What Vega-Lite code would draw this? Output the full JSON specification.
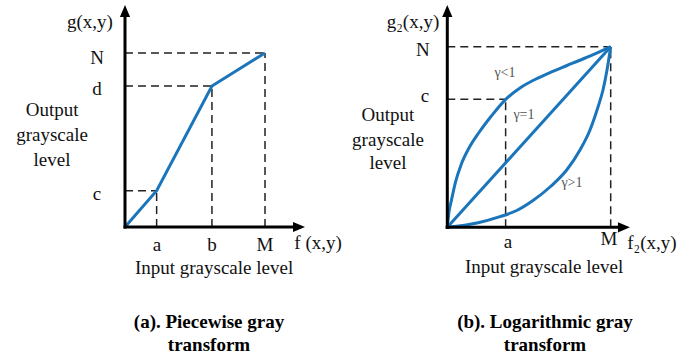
{
  "$schema": "https://vega.github.io/schema/vega-lite/v6.json",
  "padding": 0,
  "autosize": {"type": "pad"},
  "background": "white",
  "spacing": 0,
  "bounds": "flush",
  "config": {"view": {"stroke": null}, "text": {"font": "Liberation Serif"}},
  "datasets": {
    "leftRules": [
      {"x": 0, "y": 20.9, "x2": 22.6, "y2": 20.9, "kind": "dash"},
      {"x": 22.6, "y": 0, "x2": 22.6, "y2": 20.9, "kind": "dash"},
      {"x": 0, "y": 81, "x2": 62.1, "y2": 81, "kind": "dash"},
      {"x": 62.1, "y": 0, "x2": 62.1, "y2": 81, "kind": "dash"},
      {"x": 0, "y": 100, "x2": 100, "y2": 100, "kind": "dash"},
      {"x": 100, "y": 0, "x2": 100, "y2": 100, "kind": "dash"},
      {"x": 0, "y": -0.9, "x2": 0, "y2": 121, "kind": "axis"},
      {"x": -1, "y": 0, "x2": 120.5, "y2": 0, "kind": "axis"}
    ],
    "leftArrows": [
      {"x": 0, "y": 124.1, "dir": "up"},
      {"x": 124.3, "y": 0, "dir": "right"}
    ],
    "leftCurve": [
      {"x": 0, "y": 0, "o": 0},
      {"x": 22.6, "y": 20.9, "o": 1},
      {"x": 62.1, "y": 81, "o": 2},
      {"x": 100, "y": 100, "o": 3}
    ],
    "leftLabels": [
      {"x": -25, "y": 117.8, "text": "g(x,y)", "kind": "label"},
      {"x": -20, "y": 97.1, "text": "N", "kind": "label"},
      {"x": -20, "y": 79.3, "text": "d", "kind": "label"},
      {"x": -20, "y": 19.0, "text": "c", "kind": "label"},
      {"x": -52.1, "y": 67.2, "text": "Output", "kind": "label"},
      {"x": -52.1, "y": 52.9, "text": "grayscale", "kind": "label"},
      {"x": -52.1, "y": 38.5, "text": "level", "kind": "label"},
      {"x": 22.9, "y": -10.3, "text": "a", "kind": "label"},
      {"x": 62.1, "y": -10.3, "text": "b", "kind": "label"},
      {"x": 100, "y": -10.3, "text": "M", "kind": "label"},
      {"x": 137.9, "y": -9.2, "text": "f (x,y)", "kind": "label"},
      {"x": 63.6, "y": -23.6, "text": "Input grayscale level", "kind": "label"},
      {"x": 60, "y": -54.6, "text": "(a). Piecewise gray", "kind": "title"},
      {"x": 60, "y": -67.8, "text": "transform", "kind": "title"}
    ],
    "rightRules": [
      {"x": 0, "y": 70.9, "x2": 35.7, "y2": 70.9, "kind": "dash"},
      {"x": 35.7, "y": 0, "x2": 35.7, "y2": 70.9, "kind": "dash"},
      {"x": 0, "y": 100, "x2": 100, "y2": 100, "kind": "dash"},
      {"x": 100, "y": 0, "x2": 100, "y2": 100, "kind": "dash"},
      {"x": 0, "y": -0.9, "x2": 0, "y2": 117, "kind": "axis"},
      {"x": -1, "y": 0, "x2": 105, "y2": 0, "kind": "axis"}
    ],
    "rightArrows": [
      {"x": 0, "y": 119.8, "dir": "up"},
      {"x": 108.1, "y": 0, "dir": "right"}
    ],
    "rightCurves": [
      {"g": "lt", "x": 0, "y": 0},
      {"g": "lt", "x": 1.04, "y": 8.47},
      {"g": "lt", "x": 2.57, "y": 15.12},
      {"g": "lt", "x": 5.02, "y": 25.08},
      {"g": "lt", "x": 8.38, "y": 34.5},
      {"g": "lt", "x": 13.28, "y": 43.91},
      {"g": "lt", "x": 19.4, "y": 52.49},
      {"g": "lt", "x": 26.74, "y": 61.35},
      {"g": "lt", "x": 35.74, "y": 70.87},
      {"g": "lt", "x": 44.49, "y": 77.13},
      {"g": "lt", "x": 53.67, "y": 81.84},
      {"g": "lt", "x": 62.85, "y": 85.71},
      {"g": "lt", "x": 73.26, "y": 89.59},
      {"g": "lt", "x": 83.66, "y": 93.47},
      {"g": "lt", "x": 93.45, "y": 97.34},
      {"g": "lt", "x": 100, "y": 100},
      {"g": "eq", "x": 0, "y": 0},
      {"g": "eq", "x": 100, "y": 100},
      {"g": "gt", "x": 0, "y": 0},
      {"g": "gt", "x": 18.18, "y": 2.38},
      {"g": "gt", "x": 32.25, "y": 5.87},
      {"g": "gt", "x": 42.47, "y": 9.3},
      {"g": "gt", "x": 52.45, "y": 14.84},
      {"g": "gt", "x": 62.85, "y": 22.31},
      {"g": "gt", "x": 73.07, "y": 31.73},
      {"g": "gt", "x": 81.21, "y": 42.8},
      {"g": "gt", "x": 87.33, "y": 53.88},
      {"g": "gt", "x": 92.23, "y": 66.61},
      {"g": "gt", "x": 95.29, "y": 76.03},
      {"g": "gt", "x": 97.74, "y": 87.1},
      {"g": "gt", "x": 100, "y": 100}
    ],
    "rightLabels": [
      {"x": -21, "y": 113.7, "text": "g₂(x,y)", "kind": "label"},
      {"x": -14.9, "y": 98.2, "text": "N", "kind": "label"},
      {"x": -13.6, "y": 72.7, "text": "c", "kind": "label"},
      {"x": -36.3, "y": 62.1, "text": "Output", "kind": "label"},
      {"x": -36.3, "y": 48.3, "text": "grayscale", "kind": "label"},
      {"x": -36.3, "y": 35.6, "text": "level", "kind": "label"},
      {"x": 37.1, "y": -8.2, "text": "a", "kind": "label"},
      {"x": 99, "y": -6.5, "text": "M", "kind": "label"},
      {"x": 125.2, "y": -8.7, "text": "f₂(x,y)", "kind": "label"},
      {"x": 59.2, "y": -22.0, "text": "Input grayscale level", "kind": "label"},
      {"x": 59.8, "y": -52.5, "text": "(b). Logarithmic gray", "kind": "title"},
      {"x": 59.8, "y": -65.3, "text": "transform", "kind": "title"},
      {"x": 35.3, "y": 85.4, "text": "γ<1", "kind": "gamma"},
      {"x": 46.9, "y": 62.2, "text": "γ=1", "kind": "gamma"},
      {"x": 76.3, "y": 24.5, "text": "γ>1", "kind": "gamma"}
    ]
  },
  "hconcat": [
    {
      "width": 348,
      "height": 358,
      "encoding": {
        "x": {"field": "x", "type": "quantitative", "scale": {"domain": [-89.2857, 159.2857], "nice": false, "zero": false}, "axis": null},
        "y": {"field": "y", "type": "quantitative", "scale": {"domain": [-75.287, 130.46], "nice": false, "zero": false}, "axis": null}
      },
      "layer": [
        {
          "data": {"name": "leftRules"},
          "transform": [{"filter": "datum.kind === 'dash'"}],
          "mark": {"type": "rule", "color": "#222222", "strokeWidth": 1.5, "strokeDash": [8, 5]},
          "encoding": {"x2": {"field": "x2"}, "y2": {"field": "y2"}}
        },
        {
          "data": {"name": "leftCurve"},
          "mark": {"type": "line", "color": "#1b75bb", "strokeWidth": 3},
          "encoding": {"order": {"field": "o", "type": "quantitative"}}
        },
        {
          "data": {"name": "leftRules"},
          "transform": [{"filter": "datum.kind === 'axis'"}],
          "mark": {"type": "rule", "color": "#000000", "strokeWidth": 3},
          "encoding": {"x2": {"field": "x2"}, "y2": {"field": "y2"}}
        },
        {
          "data": {"name": "leftArrows"},
          "mark": {"type": "point", "filled": true, "color": "#000000", "opacity": 1, "size": 144},
          "encoding": {"shape": {"field": "dir", "type": "nominal", "scale": {"domain": ["up", "right"], "range": ["M0,-1L0.85,1L-0.85,1Z", "M1,0L-1,-0.85L-1,0.85Z"]}, "legend": null}}
        },
        {
          "data": {"name": "leftLabels"},
          "transform": [{"filter": "datum.kind === 'label'"}],
          "mark": {"type": "text", "font": "Liberation Serif", "fontSize": 19, "color": "#111111", "align": "center", "baseline": "middle"},
          "encoding": {"text": {"field": "text"}}
        },
        {
          "data": {"name": "leftLabels"},
          "transform": [{"filter": "datum.kind === 'title'"}],
          "mark": {"type": "text", "font": "Liberation Serif", "fontSize": 19, "fontWeight": "bold", "color": "#000000", "align": "center", "baseline": "middle"},
          "encoding": {"text": {"field": "text"}}
        }
      ]
    },
    {
      "width": 349,
      "height": 358,
      "encoding": {
        "x": {"field": "x", "type": "quantitative", "scale": {"domain": [-60.77, 152.82], "nice": false, "zero": false}, "axis": null},
        "y": {"field": "y", "type": "quantitative", "scale": {"domain": [-72.37, 125.86], "nice": false, "zero": false}, "axis": null}
      },
      "layer": [
        {
          "data": {"name": "rightRules"},
          "transform": [{"filter": "datum.kind === 'dash'"}],
          "mark": {"type": "rule", "color": "#222222", "strokeWidth": 1.5, "strokeDash": [8, 5]},
          "encoding": {"x2": {"field": "x2"}, "y2": {"field": "y2"}}
        },
        {
          "data": {"name": "rightCurves"},
          "mark": {"type": "line", "color": "#1b75bb", "strokeWidth": 3, "interpolate": "monotone"},
          "encoding": {"detail": {"field": "g", "type": "nominal"}}
        },
        {
          "data": {"name": "rightRules"},
          "transform": [{"filter": "datum.kind === 'axis'"}],
          "mark": {"type": "rule", "color": "#000000", "strokeWidth": 3},
          "encoding": {"x2": {"field": "x2"}, "y2": {"field": "y2"}}
        },
        {
          "data": {"name": "rightArrows"},
          "mark": {"type": "point", "filled": true, "color": "#000000", "opacity": 1, "size": 144},
          "encoding": {"shape": {"field": "dir", "type": "nominal", "scale": {"domain": ["up", "right"], "range": ["M0,-1L0.85,1L-0.85,1Z", "M1,0L-1,-0.85L-1,0.85Z"]}, "legend": null}}
        },
        {
          "data": {"name": "rightLabels"},
          "transform": [{"filter": "datum.kind === 'label'"}],
          "mark": {"type": "text", "font": "Liberation Serif", "fontSize": 19, "color": "#111111", "align": "center", "baseline": "middle"},
          "encoding": {"text": {"field": "text"}}
        },
        {
          "data": {"name": "rightLabels"},
          "transform": [{"filter": "datum.kind === 'gamma'"}],
          "mark": {"type": "text", "font": "Liberation Serif", "fontSize": 14, "color": "#555555", "align": "center", "baseline": "middle"},
          "encoding": {"text": {"field": "text"}}
        },
        {
          "data": {"name": "rightLabels"},
          "transform": [{"filter": "datum.kind === 'title'"}],
          "mark": {"type": "text", "font": "Liberation Serif", "fontSize": 19, "fontWeight": "bold", "color": "#000000", "align": "center", "baseline": "middle"},
          "encoding": {"text": {"field": "text"}}
        }
      ]
    }
  ]
}
